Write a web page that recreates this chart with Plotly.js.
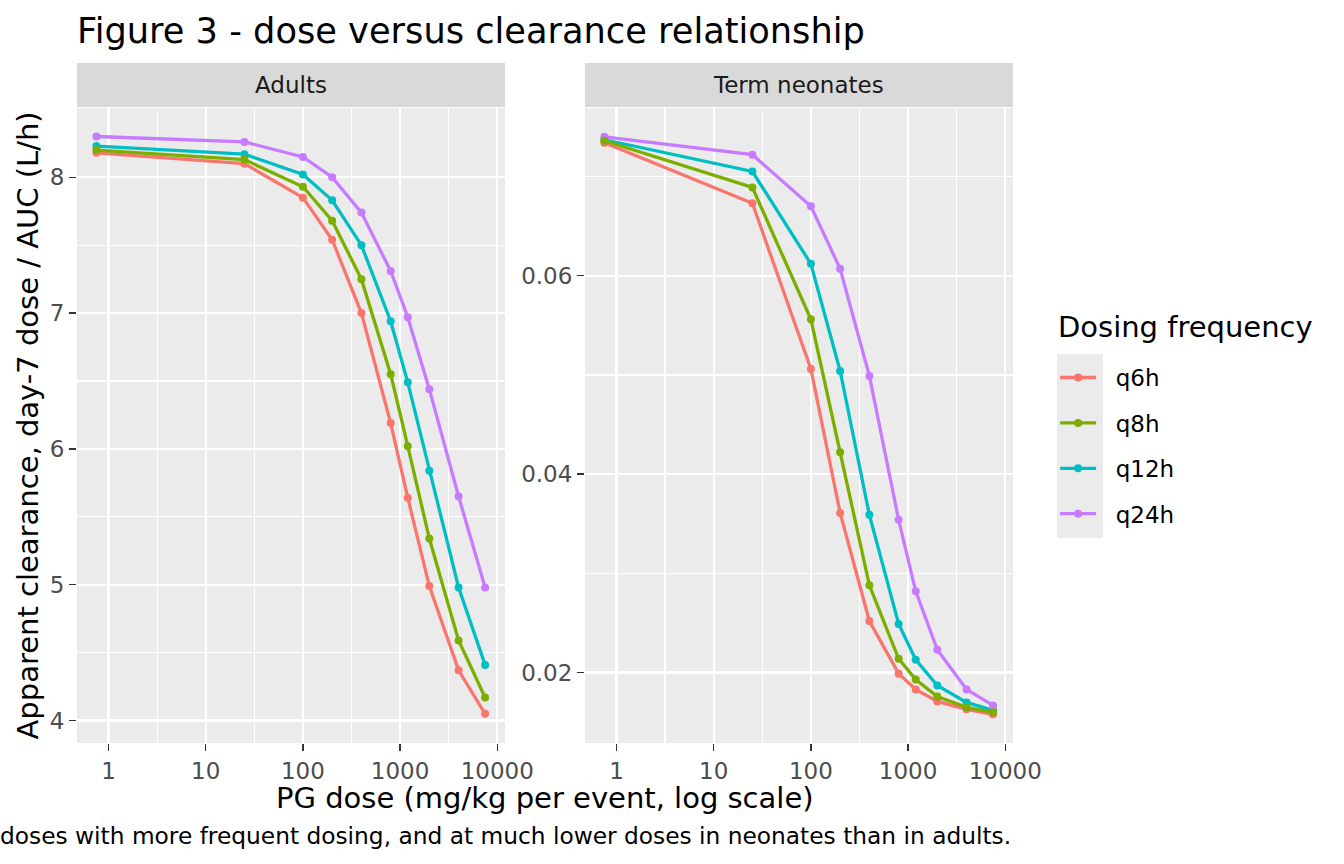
<!DOCTYPE html>
<html>
<head>
<meta charset="utf-8">
<script src="https://cdn.plot.ly/plotly-3.0.1.min.js"></script>
<style>
  html, body { margin: 0; padding: 0; background: #fff; }
  #plot { width: 1344px; height: 864px; }
</style>
</head>
<body>
<div id="plot"></div>
<script>
/* global Plotly */
// PG dose per event (mg/kg), shared by both panels
const doses = [0.75, 25, 100, 200, 400, 800, 1200, 2000, 4000, 7500];

const frequencies = ['q6h', 'q8h', 'q12h', 'q24h'];
const panels = ['Adults', 'Term neonates'];

// apparent clearance (L/h), adults
const adultsQ6h = [8.18, 8.10, 7.85, 7.54, 7.00, 6.19, 5.64, 4.99, 4.37, 4.05];
const adultsQ8h = [8.20, 8.13, 7.93, 7.68, 7.25, 6.55, 6.02, 5.34, 4.59, 4.17];
const adultsQ12h = [8.23, 8.17, 8.02, 7.83, 7.50, 6.94, 6.49, 5.84, 4.98, 4.41];
const adultsQ24h = [8.30, 8.26, 8.15, 8.00, 7.74, 7.31, 6.97, 6.44, 5.65, 4.98];

// apparent clearance (L/h), term neonates
const neonatesQ6h = [0.0734, 0.0673, 0.0506, 0.0361, 0.0252, 0.0199, 0.0183, 0.0171, 0.0163, 0.0158];
const neonatesQ8h = [0.0736, 0.0689, 0.0556, 0.0422, 0.0288, 0.0214, 0.0193, 0.0176, 0.0165, 0.0160];
const neonatesQ12h = [0.0737, 0.0705, 0.0612, 0.0504, 0.0359, 0.0249, 0.0213, 0.0187, 0.0170, 0.0162];
const neonatesQ24h = [0.0740, 0.0722, 0.0670, 0.0607, 0.0499, 0.0354, 0.0282, 0.0223, 0.0183, 0.0167];

const captionText = 'doses with more frequent dosing, and at much lower doses in neonates than in adults.';

(function () {
  const colours = {q6h: '#F8766D', q8h: '#7CAE00', q12h: '#00BFC4', q24h: '#C77CFF'};
  const values = {
    Adults: {q6h: adultsQ6h, q8h: adultsQ8h, q12h: adultsQ12h, q24h: adultsQ24h},
    'Term neonates': {q6h: neonatesQ6h, q8h: neonatesQ8h, q12h: neonatesQ12h, q24h: neonatesQ24h}
  };
  const font = 'DejaVu Sans, Verdana, sans-serif';
  const smallSize = 23;
  const midSize = 29;

  // ggplot draws groups in alphabetical order, so q8h ends up on top
  const drawOrder = ['q12h', 'q24h', 'q6h', 'q8h'];
  const traces = [];
  panels.forEach(function (panel, p) {
    drawOrder.forEach(function (freq) {
      traces.push({
        x: doses,
        y: values[panel][freq],
        xaxis: p === 0 ? 'x' : 'x2',
        yaxis: p === 0 ? 'y' : 'y2',
        type: 'scatter',
        mode: 'lines+markers',
        // nbsp padding pushes the label clear of the grey key box
        name: '\u00A0\u00A0' + freq,
        legendgroup: freq,
        legendrank: frequencies.indexOf(freq) + 1,
        showlegend: p === 0,
        line: {color: colours[freq], width: 3.3},
        marker: {color: colours[freq], size: 8}
      });
    });
  });

  const xAxisBase = {
    type: 'log',
    range: [-0.325, 4.08],
    tickvals: [1, 10, 100, 1000, 10000],
    ticktext: ['1', '10', '100', '1000', '10000'],
    ticks: 'outside',
    ticklen: 7,
    tickwidth: 1.4,
    tickcolor: '#333333',
    tickfont: {family: font, size: smallSize, color: '#4D4D4D'},
    showgrid: true,
    gridcolor: '#FFFFFF',
    gridwidth: 2.4,
    minor: {
      tickvals: [0.316, 3.16, 31.6, 316, 3162],
      showgrid: true,
      gridcolor: '#FFFFFF',
      gridwidth: 1.2,
      ticklen: 0
    },
    zeroline: false,
    showline: false,
    fixedrange: true
  };
  const yAxisBase = {
    ticks: 'outside',
    ticklen: 7,
    tickwidth: 1.4,
    tickcolor: '#333333',
    tickfont: {family: font, size: smallSize, color: '#4D4D4D'},
    showgrid: true,
    gridcolor: '#FFFFFF',
    gridwidth: 2.4,
    zeroline: false,
    showline: false,
    fixedrange: true
  };

  const layout = {
    width: 1344,
    height: 864,
    margin: {l: 77, r: 331, t: 108, b: 121},
    paper_bgcolor: '#FFFFFF',
    plot_bgcolor: '#EBEBEB',
    font: {family: font, color: '#000000'},
    showlegend: true,
    title: {
      text: 'Figure 3 - dose versus clearance relationship',
      font: {family: font, size: 35.2, color: '#000000'},
      xref: 'paper',
      x: 0,
      xanchor: 'left',
      yref: 'container',
      y: 0.965,
      yanchor: 'middle'
    },
    xaxis: Object.assign({}, xAxisBase, {domain: [0, 0.4573], anchor: 'y'}),
    xaxis2: Object.assign({}, xAxisBase, {domain: [0.5427, 1], anchor: 'y2'}),
    yaxis: Object.assign({}, yAxisBase, {
      range: [3.835, 8.51],
      tickvals: [4, 5, 6, 7, 8],
      minor: {tickvals: [4.5, 5.5, 6.5, 7.5], showgrid: true, gridcolor: '#FFFFFF', gridwidth: 1.2, ticklen: 0},
      anchor: 'x'
    }),
    yaxis2: Object.assign({}, yAxisBase, {
      range: [0.01291, 0.0769],
      tickvals: [0.02, 0.04, 0.06],
      ticktext: ['0.02', '0.04', '0.06'],
      minor: {tickvals: [0.03, 0.05, 0.07], showgrid: true, gridcolor: '#FFFFFF', gridwidth: 1.2, ticklen: 0},
      anchor: 'x2'
    }),
    legend: {
      font: {family: font, size: smallSize, color: '#000000'},
      x: 1.045,
      xanchor: 'left',
      y: 0.6094,
      yanchor: 'top',
      bgcolor: 'rgba(0,0,0,0)',
      itemwidth: 36,
      tracegroupgap: 12.5,
      traceorder: 'grouped'
    },
    shapes: [
      // facet strips
      {type: 'rect', xref: 'paper', yref: 'paper', x0: 0, x1: 0.4573, y0: 1.0016, y1: 1.0709,
        fillcolor: '#D9D9D9', line: {width: 0}},
      {type: 'rect', xref: 'paper', yref: 'paper', x0: 0.5427, x1: 1, y0: 1.0016, y1: 1.0709,
        fillcolor: '#D9D9D9', line: {width: 0}},
      // legend key background
      {type: 'rect', xref: 'paper', yref: 'paper', x0: 1.047, x1: 1.0962, y0: 0.3228, y1: 0.6126,
        fillcolor: '#EBEBEB', line: {width: 0}}
    ],
    annotations: [
      {text: panels[0], xref: 'paper', yref: 'paper', x: 0.2287, y: 1.0362, showarrow: false,
        xanchor: 'center', yanchor: 'middle', font: {family: font, size: smallSize, color: '#1A1A1A'}},
      {text: panels[1], xref: 'paper', yref: 'paper', x: 0.7713, y: 1.0362, showarrow: false,
        xanchor: 'center', yanchor: 'middle', font: {family: font, size: smallSize, color: '#1A1A1A'}},
      {text: 'PG dose (mg/kg per event, log scale)', xref: 'paper', yref: 'paper', x: 0.5, y: -0.0866,
        showarrow: false, xanchor: 'center', yanchor: 'middle', font: {family: font, size: midSize}},
      {text: 'Apparent clearance, day-7 dose / AUC (L/h)', xref: 'paper', yref: 'paper', x: -0.0534, y: 0.5,
        textangle: -90, showarrow: false, xanchor: 'center', yanchor: 'middle', font: {family: font, size: midSize}},
      {text: 'Dosing frequency', xref: 'paper', yref: 'paper', x: 1.046, y: 0.655, showarrow: false,
        xanchor: 'left', yanchor: 'middle', font: {family: font, size: midSize}},
      {text: captionText, xref: 'paper', yref: 'paper', x: 1, y: -0.1449, showarrow: false,
        xanchor: 'right', yanchor: 'middle', font: {family: font, size: 23.3}}
    ]
  };

  Plotly.newPlot('plot', traces, layout, {displayModeBar: false, staticPlot: true});
})();
</script>
</body>
</html>
